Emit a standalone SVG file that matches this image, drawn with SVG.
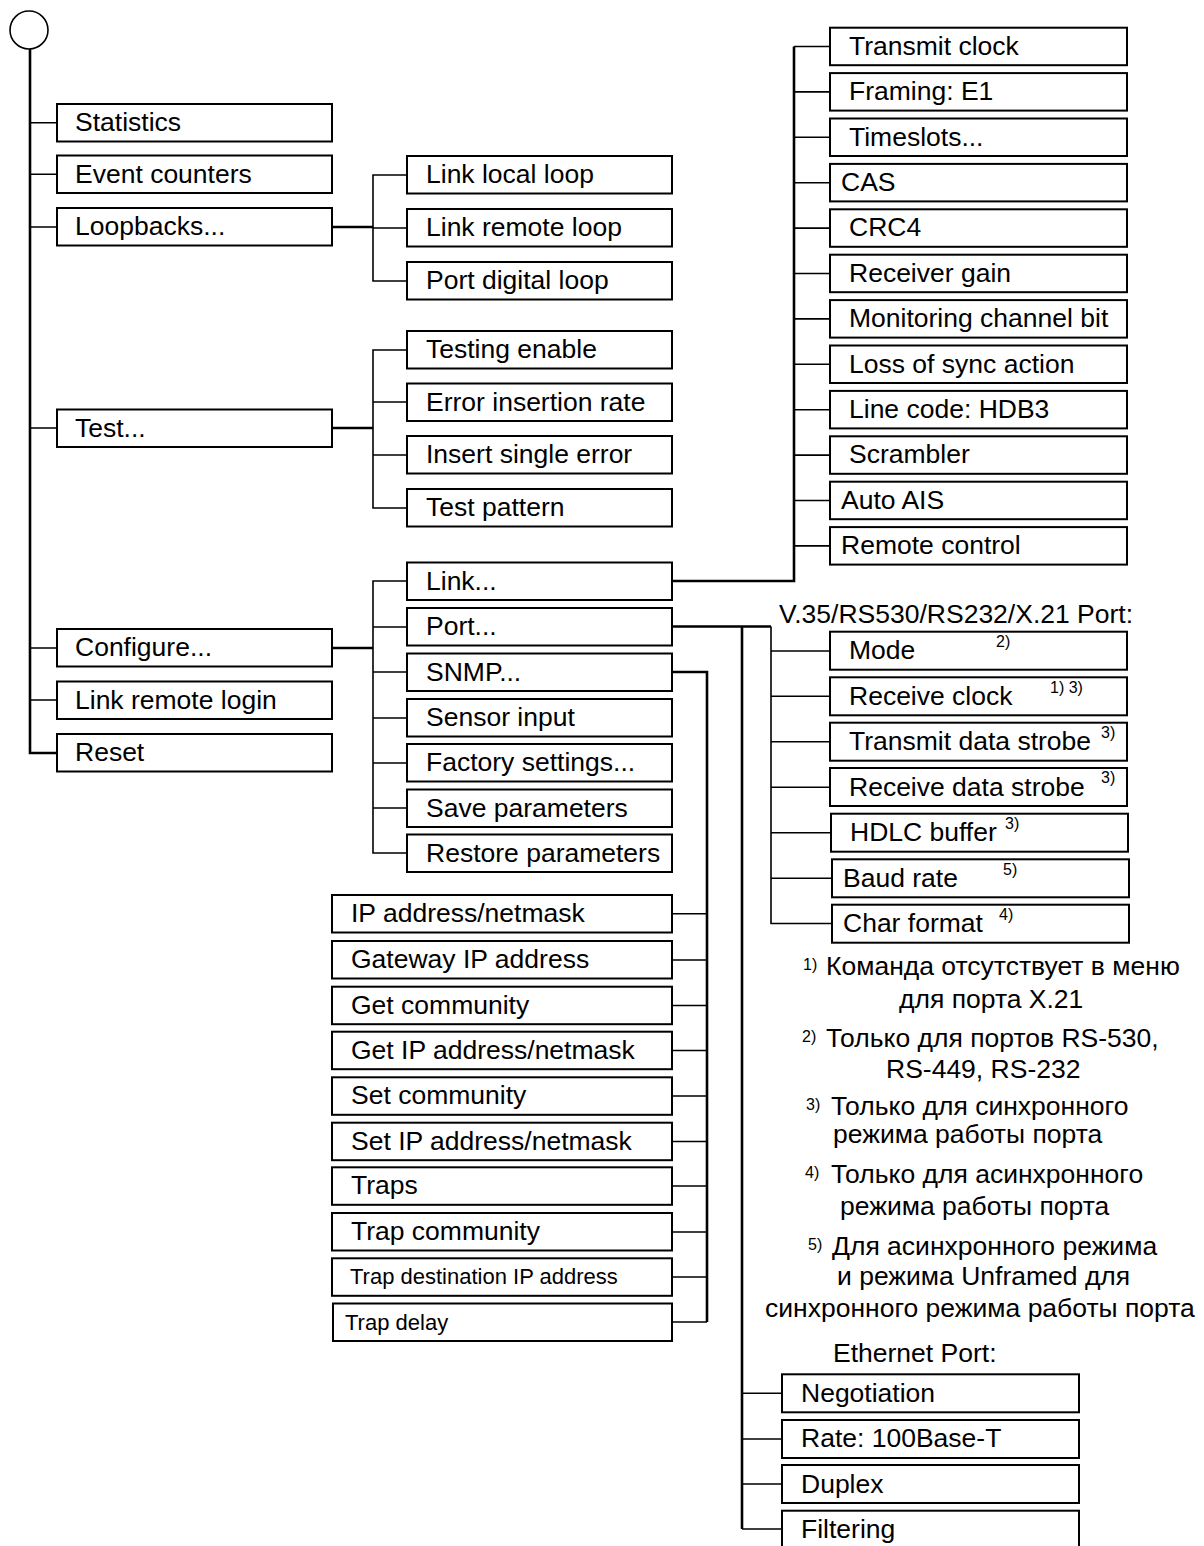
<svg xmlns="http://www.w3.org/2000/svg" width="1204" height="1546" viewBox="0 0 1204 1546">
<style>
text{font-family:"Liberation Sans",Arial,"Noto Sans CJK SC",sans-serif;font-size:26.5px;fill:#000}
.b{fill:#fff;stroke:#000;stroke-width:2}
.sup{font-size:16px}
.sm{font-size:22px}
.t{fill:none;stroke:#000;stroke-width:2.6}
.c{fill:none;stroke:#000;stroke-width:1.6}
</style>
<rect width="1204" height="1546" fill="#fff"/>
<g id="connectors">
<circle cx="29" cy="30" r="19" fill="#fff" stroke="#000" stroke-width="1.6"/>
<path class="t" d="M30 49V753H57"/>
<path class="c" d="M30 122.8H57M30 174.3H57M30 227H57M30 428H57M30 648H57M30 700H57"/>
<path class="t" d="M332 227H373M332 428H373M332 648H373"/>
<path class="c" d="M407 175H373V281H407M373 228H407"/>
<path class="c" d="M407 350H373V508H407M373 402H407M373 455H407"/>
<path class="c" d="M407 581H373V853H407M373 627H407M373 672H407M373 718H407M373 763H407M373 808H407"/>
<path class="t" d="M672 581H794V46.5"/>
<path class="c" d="M794 46.5H830M794 91.9H830M794 137.3H830M794 182.7H830M794 228.1H830M794 273.5H830M794 318.9H830M794 364.3H830M794 409.7H830M794 455.1H830M794 500.5H830M794 545.9H830"/>
<path class="t" d="M672 626.5H771M742 626.5V1529"/>
<path class="c" d="M771 626.5V923.5H831M771 651H830M771 696.3H830M771 741.7H830M771 787.3H830M771 832.7H831M771 878.3H832"/>
<path class="c" d="M742 1393.3H782M742 1439H782M742 1484H782M742 1529H782"/>
<path class="t" d="M672 672H707V1322"/>
<path class="c" d="M672 913.8H707M672 960H707M672 1005.5H707M672 1050.5H707M672 1096H707M672 1141.5H707M672 1186H707M672 1232H707M672 1277H707M672 1322H707"/>
</g>
<g id="statistics"><rect class="b" x="57" y="104" width="275" height="37.5"/><text x="75" y="131">Statistics</text></g>
<g id="event-counters"><rect class="b" x="57" y="155.5" width="275" height="37.5"/><text x="75" y="182.5">Event counters</text></g>
<g id="loopbacks"><rect class="b" x="57" y="208" width="275" height="37.5"/><text x="75" y="235">Loopbacks...</text></g>
<g id="test"><rect class="b" x="57" y="409.5" width="275" height="37.5"/><text x="75" y="436.5">Test...</text></g>
<g id="configure"><rect class="b" x="57" y="629" width="275" height="37.5"/><text x="75" y="656">Configure...</text></g>
<g id="link-remote-login"><rect class="b" x="57" y="681.5" width="275" height="37.5"/><text x="75" y="708.5">Link remote login</text></g>
<g id="reset"><rect class="b" x="57" y="734" width="275" height="37.5"/><text x="75" y="761">Reset</text></g>

<g id="link-local-loop"><rect class="b" x="407" y="156" width="265" height="37.5"/><text x="426" y="183">Link local loop</text></g>
<g id="link-remote-loop"><rect class="b" x="407" y="209" width="265" height="37.5"/><text x="426" y="236">Link remote loop</text></g>
<g id="port-digital-loop"><rect class="b" x="407" y="262" width="265" height="37.5"/><text x="426" y="289">Port digital loop</text></g>
<g id="testing-enable"><rect class="b" x="407" y="331" width="265" height="37.5"/><text x="426" y="358">Testing enable</text></g>
<g id="error-insertion-rate"><rect class="b" x="407" y="383.5" width="265" height="37.5"/><text x="426" y="410.5">Error insertion rate</text></g>
<g id="insert-single-error"><rect class="b" x="407" y="436" width="265" height="37.5"/><text x="426" y="463">Insert single error</text></g>
<g id="test-pattern"><rect class="b" x="407" y="489" width="265" height="37.5"/><text x="426" y="516">Test pattern</text></g>
<g id="link"><rect class="b" x="407" y="562.5" width="265" height="37.5"/><text x="426" y="589.5">Link...</text></g>
<g id="port"><rect class="b" x="407" y="608" width="265" height="37.5"/><text x="426" y="635">Port...</text></g>
<g id="snmp"><rect class="b" x="407" y="653.5" width="265" height="37.5"/><text x="426" y="680.5">SNMP...</text></g>
<g id="sensor-input"><rect class="b" x="407" y="699" width="265" height="37.5"/><text x="426" y="726">Sensor input</text></g>
<g id="factory-settings"><rect class="b" x="407" y="744" width="265" height="37.5"/><text x="426" y="771">Factory settings...</text></g>
<g id="save-parameters"><rect class="b" x="407" y="789.5" width="265" height="37.5"/><text x="426" y="816.5">Save parameters</text></g>
<g id="restore-parameters"><rect class="b" x="407" y="834.5" width="265" height="37.5"/><text x="426" y="861.5">Restore parameters</text></g>

<g id="transmit-clock"><rect class="b" x="830" y="27.7" width="297" height="37.5"/><text x="849" y="54.7">Transmit clock</text></g>
<g id="framing"><rect class="b" x="830" y="73.1" width="297" height="37.5"/><text x="849" y="100.1">Framing: E1</text></g>
<g id="timeslots"><rect class="b" x="830" y="118.5" width="297" height="37.5"/><text x="849" y="145.5">Timeslots...</text></g>
<g id="cas"><rect class="b" x="830" y="163.9" width="297" height="37.5"/><text x="841" y="190.9">CAS</text></g>
<g id="crc4"><rect class="b" x="830" y="209.3" width="297" height="37.5"/><text x="849" y="236.3">CRC4</text></g>
<g id="receiver-gain"><rect class="b" x="830" y="254.7" width="297" height="37.5"/><text x="849" y="281.7">Receiver gain</text></g>
<g id="monitoring-channel-bit"><rect class="b" x="830" y="300.1" width="297" height="37.5"/><text x="849" y="327.1">Monitoring channel bit</text></g>
<g id="loss-of-sync-action"><rect class="b" x="830" y="345.5" width="297" height="37.5"/><text x="849" y="372.5">Loss of sync action</text></g>
<g id="line-code"><rect class="b" x="830" y="390.9" width="297" height="37.5"/><text x="849" y="417.9">Line code: HDB3</text></g>
<g id="scrambler"><rect class="b" x="830" y="436.3" width="297" height="37.5"/><text x="849" y="463.3">Scrambler</text></g>
<g id="auto-ais"><rect class="b" x="830" y="481.7" width="297" height="37.5"/><text x="841" y="508.7">Auto AIS</text></g>
<g id="remote-control"><rect class="b" x="830" y="527.1" width="297" height="37.5"/><text x="841" y="554.1">Remote control</text></g>

<g id="serial-port-title"><text x="779" y="623">V.35/RS530/RS232/X.21 Port:</text></g>
<g id="mode"><rect class="b" x="830" y="631.7" width="297" height="38"/><text x="849" y="659">Mode</text><text class="sup" x="996" y="647">2)</text></g>
<g id="receive-clock"><rect class="b" x="830" y="677.3" width="297" height="38"/><text x="849" y="704.5">Receive clock</text><text class="sup" x="1050" y="693">1) 3)</text></g>
<g id="transmit-data-strobe"><rect class="b" x="830" y="722.7" width="297" height="38"/><text x="849" y="750">Transmit data strobe</text><text class="sup" x="1101" y="738">3)</text></g>
<g id="receive-data-strobe"><rect class="b" x="830" y="768" width="297" height="38"/><text x="849" y="795.5">Receive data strobe</text><text class="sup" x="1101" y="783">3)</text></g>
<g id="hdlc-buffer"><rect class="b" x="831" y="813.7" width="297" height="38"/><text x="850" y="841">HDLC buffer</text><text class="sup" x="1005" y="829">3)</text></g>
<g id="baud-rate"><rect class="b" x="832" y="859.3" width="297" height="38"/><text x="843" y="886.5">Baud rate</text><text class="sup" x="1003" y="875">5)</text></g>
<g id="char-format"><rect class="b" x="832" y="904.7" width="297" height="38"/><text x="843" y="932">Char format</text><text class="sup" x="999" y="920">4)</text></g>

<g id="footnotes">
<text class="sup" x="803" y="970">1)</text><text x="826" y="975">Команда отсутствует в меню</text>
<text x="899" y="1008">для порта X.21</text>
<text class="sup" x="802" y="1042">2)</text><text x="826" y="1047">Только для портов RS-530,</text>
<text x="886" y="1078">RS-449, RS-232</text>
<text class="sup" x="806" y="1110">3)</text><text x="831" y="1115">Только для синхронного</text>
<text x="833" y="1143">режима работы порта</text>
<text class="sup" x="805" y="1178">4)</text><text x="831" y="1183">Только для асинхронного</text>
<text x="840" y="1215">режима работы порта</text>
<text class="sup" x="808" y="1250">5)</text><text x="832" y="1255">Для асинхронного режима</text>
<text x="837" y="1285">и режима Unframed для</text>
<text x="765" y="1317">синхронного режима работы порта</text>
</g>

<g id="ip-address-netmask"><rect class="b" x="332" y="895" width="340" height="37.5"/><text x="351" y="922">IP address/netmask</text></g>
<g id="gateway-ip-address"><rect class="b" x="332" y="941" width="340" height="37.5"/><text x="351" y="968">Gateway IP address</text></g>
<g id="get-community"><rect class="b" x="332" y="986.7" width="340" height="37.5"/><text x="351" y="1013.7">Get community</text></g>
<g id="get-ip-address-netmask"><rect class="b" x="332" y="1031.7" width="340" height="37.5"/><text x="351" y="1058.7">Get IP address/netmask</text></g>
<g id="set-community"><rect class="b" x="332" y="1077.3" width="340" height="37.5"/><text x="351" y="1104.3">Set community</text></g>
<g id="set-ip-address-netmask"><rect class="b" x="332" y="1122.7" width="340" height="37.5"/><text x="351" y="1149.7">Set IP address/netmask</text></g>
<g id="traps"><rect class="b" x="332" y="1167.3" width="340" height="37.5"/><text x="351" y="1194.3">Traps</text></g>
<g id="trap-community"><rect class="b" x="332" y="1213" width="340" height="37.5"/><text x="351" y="1240">Trap community</text></g>
<g id="trap-destination"><rect class="b" x="332" y="1258.3" width="340" height="37.5"/><text class="sm" x="350" y="1284">Trap destination IP address</text></g>
<g id="trap-delay"><rect class="b" x="333" y="1303.5" width="339" height="37.5"/><text class="sm" x="345" y="1330">Trap delay</text></g>

<g id="ethernet-port-title"><text x="833" y="1362">Ethernet Port:</text></g>
<g id="negotiation"><rect class="b" x="782" y="1374.3" width="297" height="38"/><text x="801" y="1401.5">Negotiation</text></g>
<g id="rate"><rect class="b" x="782" y="1420" width="297" height="38"/><text x="801" y="1447">Rate: 100Base-T</text></g>
<g id="duplex"><rect class="b" x="782" y="1465" width="297" height="38"/><text x="801" y="1492.5">Duplex</text></g>
<g id="filtering"><rect class="b" x="782" y="1510.7" width="297" height="38"/><text x="801" y="1538">Filtering</text></g>
</svg>
